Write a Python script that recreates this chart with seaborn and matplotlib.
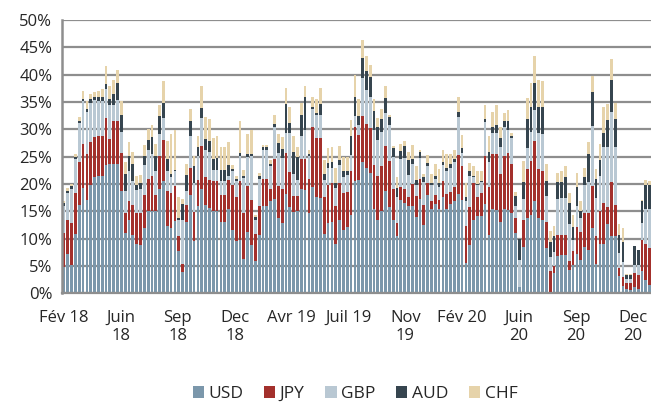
import numpy as np
import pandas as pd
import matplotlib
matplotlib.use("Agg")
import matplotlib.pyplot as plt
import matplotlib.transforms as mtransforms
from matplotlib.patches import Patch
from matplotlib.ticker import PercentFormatter
import seaborn as sns

# weekly shares (%), Feb 2018 -> Dec 2020
usd = [4.9, 7.2, 5.1, 10.9, 16.2, 19.3, 17.1, 19.9, 21.3, 21.4,
       21.4, 23.4, 23.7, 23.7, 23.7, 18.8, 11.1, 13.4, 10.7, 9.1,
       8.9, 12.0, 15.0, 15.0, 15.0, 19.0, 20.5, 12.4, 11.9, 13.2,
       7.7, 3.9, 13.0, 18.0, 9.6, 15.9, 19.0, 16.2, 15.6, 15.0,
       15.0, 13.0, 13.0, 15.4, 11.6, 9.5, 9.7, 6.3, 11.3, 8.8,
       5.9, 10.7, 15.9, 15.9, 16.8, 17.3, 13.8, 12.9, 18.1, 15.8,
       14.9, 15.0, 19.0, 18.9, 14.6, 19.4, 17.6, 17.5, 10.8, 12.8,
       13.0, 9.1, 13.4, 11.5, 12.1, 14.3, 20.5, 20.7, 24.1, 22.9,
       22.0, 15.4, 13.4, 15.0, 18.7, 15.7, 13.4, 10.4, 17.1, 16.6,
       16.0, 15.9, 14.0, 17.2, 12.5, 17.9, 15.4, 16.3, 15.5, 17.7,
       15.5, 16.3, 16.8, 18.1, 17.1, 5.5, 8.8, 13.4, 14.1, 14.1,
       16.3, 10.7, 15.5, 15.2, 13.1, 15.5, 15.2, 14.6, 11.0, 1.2,
       8.5, 13.7, 14.3, 16.8, 13.7, 13.4, 8.2, 0.1, 3.7, 6.8,
       7.0, 7.0, 4.3, 5.2, 7.2, 6.1, 8.5, 7.9, 11.9, 5.3,
       9.1, 9.1, 12.7, 10.5, 10.5, 3.2, 1.3, 0.7, 0.6, 1.2,
       0.7, 4.0, 2.4, 1.5]
jpy = [6.1, 6.3, 7.8, 7.4, 7.8, 8.1, 8.3, 7.7, 7.3, 7.4,
       7.4, 8.7, 4.6, 7.8, 7.9, 6.9, 3.6, 3.5, 5.5, 5.5,
       5.8, 6.0, 6.0, 6.4, 3.0, 6.1, 7.6, 6.3, 6.4, 6.4,
       2.8, 1.5, 3.1, 5.0, 5.2, 4.9, 7.9, 5.1, 5.1, 5.5,
       5.5, 5.0, 5.0, 5.3, 8.3, 8.2, 10.8, 8.3, 8.3, 8.3,
       5.0, 5.2, 5.1, 5.1, 2.2, 7.3, 5.9, 6.2, 7.5, 6.4,
       2.9, 2.8, 5.6, 5.6, 6.3, 11.0, 10.9, 11.0, 6.9, 7.0,
       7.2, 6.9, 6.8, 6.8, 6.5, 8.1, 10.0, 8.3, 8.3, 8.1,
       8.2, 8.1, 8.1, 8.2, 8.3, 8.5, 5.6, 2.5, 2.4, 2.4,
       1.7, 4.1, 3.8, 3.7, 3.7, 2.3, 1.4, 1.7, 1.6, 2.8,
       2.6, 2.2, 2.7, 7.2, 6.1, 6.9, 6.9, 6.8, 3.6, 4.2,
       8.8, 8.8, 10.0, 10.3, 8.7, 9.6, 10.5, 9.1, 2.8, 0.0,
       4.9, 9.0, 9.9, 11.0, 9.0, 9.0, 4.9, 3.9, 1.3, 3.9,
       3.7, 3.7, 1.6, 2.6, 5.0, 5.1, 6.1, 6.7, 7.7, 5.1,
       6.0, 7.5, 3.0, 9.9, 5.7, 1.5, 1.7, 1.1, 1.2, 2.6,
       2.7, 5.8, 6.7, 6.7]
gbp = [4.9, 4.8, 6.2, 6.2, 7.2, 7.7, 7.7, 7.3, 6.7, 6.3,
       6.3, 5.3, 6.2, 2.9, 3.8, 3.9, 4.1, 5.4, 4.3, 4.3,
       4.4, 5.4, 5.2, 4.0, 4.3, 4.1, 4.0, 3.6, 3.0, 2.7,
       3.0, 8.0, 2.6, 5.7, 5.4, 4.3, 5.2, 5.0, 5.1, 2.1,
       2.1, 2.5, 2.5, 0.7, 2.4, 2.8, 4.7, 6.5, 5.3, 8.0,
       2.6, 5.1, 5.3, 5.3, 4.2, 5.9, 6.0, 5.7, 3.7, 7.2,
       4.1, 2.9, 4.1, 5.4, 4.2, 3.4, 4.1, 4.1, 3.0, 3.2,
       2.8, 3.3, 3.2, 3.0, 3.0, 2.9, 1.9, 1.8, 6.9, 6.2,
       5.8, 6.4, 6.5, 6.4, 5.9, 6.6, 6.0, 4.8, 5.0, 5.7,
       3.9, 3.6, 2.1, 3.8, 4.2, 3.1, 3.0, 3.0, 2.4, 3.0,
       4.2, 4.5, 4.5, 6.9, 2.4, 4.5, 5.8, 1.1, 2.1, 2.1,
       6.3, 4.6, 3.8, 3.9, 5.0, 5.4, 4.2, 4.7, 2.1, 4.9,
       3.8, 3.9, 5.3, 5.7, 6.6, 6.7, 4.7, 2.7, 2.6, 6.6,
       6.8, 6.8, 6.7, 2.0, 3.7, 2.5, 5.2, 5.8, 11.0, 7.1,
       6.4, 10.2, 11.1, 12.8, 10.6, 2.6, 2.8, 0.8, 0.8, 1.4,
       1.8, 3.1, 6.4, 7.3]
aud = [0.6, 0.4, 0.5, 0.5, 0.3, 0.4, 0.6, 0.6, 0.6, 0.8,
       0.8, 0.8, 1.1, 2.1, 3.0, 3.1, 3.0, 2.9, 3.1, 1.0,
       1.0, 1.8, 1.9, 3.2, 2.9, 3.2, 2.8, 2.2, 0.6, 0.3,
       0.3, 2.9, 2.9, 2.9, 3.0, 1.7, 1.8, 2.0, 2.0, 1.9,
       2.2, 2.1, 2.1, 2.1, 0.4, 0.5, 0.5, 0.4, 0.5, 0.4,
       0.4, 0.4, 0.4, 0.4, 0.5, 0.5, 1.8, 1.6, 5.3, 1.8,
       4.0, 4.3, 3.9, 6.0, 0.4, 0.3, 0.3, 2.0, 1.1, 0.9,
       1.0, 0.9, 0.9, 1.0, 0.8, 3.4, 3.6, 1.7, 3.8, 3.5,
       3.5, 3.5, 2.5, 2.3, 2.9, 1.5, 1.5, 1.5, 1.5, 2.3,
       2.8, 0.9, 0.8, 1.2, 0.9, 0.5, 0.4, 0.5, 0.6, 0.6,
       0.6, 0.7, 0.5, 1.0, 0.9, 0.8, 0.8, 0.2, 0.2, 0.2,
       0.4, 1.8, 1.2, 1.4, 1.7, 1.0, 1.6, 0.3, 1.9, 3.8,
       3.2, 5.2, 4.6, 4.9, 4.8, 4.9, 2.7, 2.6, 2.8, 3.1,
       2.9, 3.8, 3.9, 2.4, 3.6, 1.4, 1.5, 5.1, 6.3, 3.5,
       2.9, 2.6, 4.9, 5.9, 5.1, 3.4, 3.5, 0.8, 0.8, 3.5,
       2.7, 4.0, 4.3, 4.3]
chf = [0.3, 0.5, 0.4, 0.5, 0.8, 1.6, 1.4, 1.0, 0.9, 1.2,
       1.4, 3.4, 2.4, 2.6, 2.5, 2.4, 2.3, 2.4, 2.3, 1.6,
       1.6, 2.0, 2.0, 2.1, 2.2, 2.1, 3.9, 3.4, 7.2, 7.3,
       3.9, 1.0, 2.1, 2.1, 1.9, 2.0, 4.0, 4.0, 4.0, 3.9,
       3.9, 4.2, 4.2, 4.1, 0.7, 0.4, 5.9, 1.1, 3.8, 4.3,
       0.5, 0.6, 0.5, 0.5, 0.6, 1.7, 1.7, 2.2, 3.0, 2.8,
       2.9, 1.8, 2.2, 2.0, 0.7, 1.8, 2.6, 2.9, 2.6, 2.6,
       2.7, 2.7, 2.7, 2.7, 2.6, 3.0, 3.9, 3.0, 3.2, 2.7,
       2.3, 2.1, 1.5, 1.8, 2.2, 0.3, 0.5, 2.1, 1.4, 0.9,
       1.5, 2.6, 2.6, 0.3, 0.5, 1.5, 1.6, 2.2, 2.6, 2.1,
       2.6, 1.8, 1.7, 2.7, 2.5, 2.4, 1.6, 1.7, 2.3, 1.8,
       2.7, 2.9, 2.7, 3.7, 1.9, 1.5, 2.0, 0.6, 0.8, 0.0,
       3.8, 4.0, 4.4, 5.0, 4.9, 4.8, 3.1, 2.1, 1.9, 1.6,
       1.9, 1.9, 1.8, 2.1, 2.5, 1.8, 1.6, 2.2, 2.9, 1.7,
       3.0, 4.6, 2.9, 3.7, 2.9, 1.9, 2.7, 0.1, 0.1, 0.0,
       0.0, 0.2, 0.9, 0.7]

currencies = ["USD", "JPY", "GBP", "AUD", "CHF"]
colors = ["#7b97ab", "#a3302c", "#b9c8d3", "#36454f", "#e6d3aa"]
tick_labels = ["Fév 18", "Juin\n18", "Sep\n18", "Dec\n18", "Avr 19", "Juil 19",
               "Nov\n19", "Fév 20", "Juin\n20", "Sep\n20", "Dec\n20"]

df = pd.DataFrame({"USD": usd, "JPY": jpy, "GBP": gbp, "AUD": aud, "CHF": chf}) / 100
df["week"] = np.arange(len(df))
cum = df[currencies].cumsum(axis=1)

sns.set_style("white")
plt.rcParams["font.family"] = ["Open Sans", "DejaVu Sans"]

fig = plt.figure(figsize=(6.51, 4.05), dpi=100)
ax = fig.add_axes([62 / 651, 111.7 / 405, 589.6 / 651, 273.3 / 405])

# stacked look: draw cumulative totals from the top layer down
for cur, col in reversed(list(zip(currencies, colors))):
    sns.barplot(x=df["week"], y=cum[cur], color=col, saturation=1,
                width=0.72, linewidth=0, ax=ax)

ax.set_xlim(-0.5, len(df) - 0.5)
ax.set_ylim(0, 0.5)
ax.set_yticks(np.arange(0, 0.51, 0.05))
ax.yaxis.set_major_formatter(PercentFormatter(1.0, decimals=0))
ax.grid(axis="y", color="#8e8e8e", linewidth=1.6)
ax.grid(axis="x", visible=False)
ax.set_axisbelow(True)

ticks = np.arange(len(df))
labels = [""] * len(df)
for k, lab in enumerate(tick_labels):
    labels[k * 15] = lab
ax.set_xticks(ticks)
ax.set_xticklabels(labels, fontsize=12, color="#262626", va="top", linespacing=1.15)
ax.tick_params(axis="x", length=4, width=0.8, color="#8e8e8e", pad=8)
ax.tick_params(axis="y", length=3, width=1.2, color="#8e8e8e", labelsize=12,
               labelcolor="#262626", pad=4)
ax.set_xlabel("")
ax.set_ylabel("")

# labels sit a little left of their week, more so towards the right edge
for i, t in enumerate(ax.get_xticklabels()):
    shift = -5.5 * i / (len(df) - 1)
    t.set_transform(t.get_transform() + mtransforms.ScaledTranslation(shift / 100, 0, fig.dpi_scale_trans))

for s in ["top", "right"]:
    ax.spines[s].set_visible(False)
ax.spines["left"].set_color("#8e8e8e")
ax.spines["left"].set_linewidth(1.8)
ax.spines["bottom"].set_color("#8e8e8e")
ax.spines["bottom"].set_linewidth(1.6)

handles = [Patch(facecolor=c, edgecolor="none", label=n) for n, c in zip(currencies, colors)]
fig.legend(handles=handles, loc="center", bbox_to_anchor=(355 / 651, 11 / 405),
           ncol=5, frameon=False, fontsize=12.5, handlelength=0.65, handleheight=0.65,
           handletextpad=0.25, columnspacing=1.2, labelcolor="#262626",
           borderpad=0.1)

fig.savefig("out.png", dpi=100)
